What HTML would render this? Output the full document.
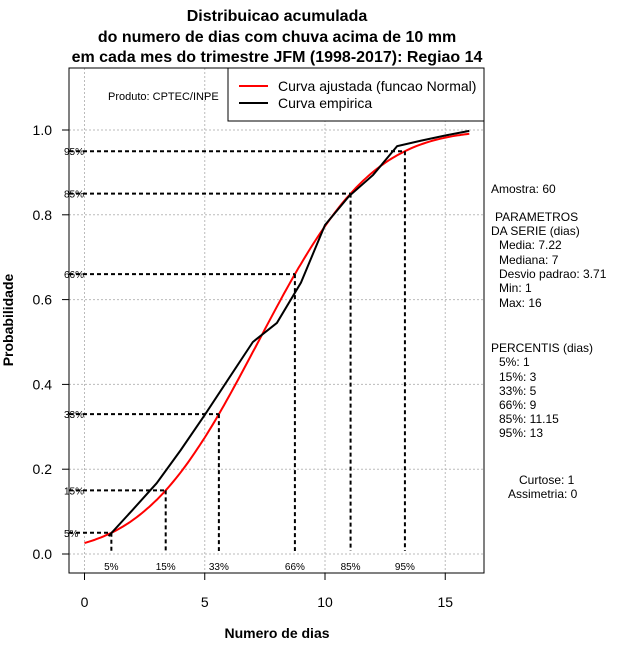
<!DOCTYPE html>
<html><head><meta charset="utf-8"><style>
body{margin:0;background:#fff;}
svg{display:block;font-family:"Liberation Sans",sans-serif;}
</style></head><body>
<svg id="chart" width="640" height="660" viewBox="0 0 640 660" xmlns="http://www.w3.org/2000/svg">
<g font-weight="bold" font-size="16" text-anchor="middle">
<text x="277" y="21">Distribuicao acumulada</text>
<text x="277" y="42">do numero de dias com chuva acima de 10 mm</text>
<text x="277" y="62">em cada mes do trimestre JFM (1998-2017): Regiao 14</text>
</g>
<g id="grid"></g>
<g id="marks"></g>
<rect x="69" y="68" width="415" height="505" fill="none" stroke="#000"/>
<g id="axes"></g>
<text x="277" y="638" font-size="14" font-weight="bold" text-anchor="middle">Numero de dias</text>
<text transform="translate(13,320) rotate(-90)" font-size="14" font-weight="bold" text-anchor="middle">Probabilidade</text>
<text x="108" y="100" font-size="11">Produto: CPTEC/INPE</text>
<g>
<rect x="228" y="68" width="256" height="53" fill="#fff" stroke="#000"/>
<line x1="239" y1="86" x2="268" y2="86" stroke="red" stroke-width="2"/>
<line x1="239" y1="103" x2="268" y2="103" stroke="#000" stroke-width="2"/>
<text x="278" y="91" font-size="14">Curva ajustada (funcao Normal)</text>
<text x="278" y="108" font-size="14">Curva empirica</text>
</g>
<g font-size="12">
<text x="491" y="193">Amostra: 60</text>
<text x="495" y="221">PARAMETROS</text>
<text x="491" y="235">DA SERIE (dias)</text>
<text x="499" y="249">Media: 7.22</text>
<text x="499" y="264">Mediana: 7</text>
<text x="499" y="278">Desvio padrao: 3.71</text>
<text x="499" y="292">Min: 1</text>
<text x="499" y="307">Max: 16</text>
<text x="491" y="352">PERCENTIS (dias)</text>
<text x="499" y="366">5%: 1</text>
<text x="499" y="381">15%: 3</text>
<text x="499" y="395">33%: 5</text>
<text x="499" y="409">66%: 9</text>
<text x="499" y="423">85%: 11.15</text>
<text x="499" y="437">95%: 13</text>
<text x="519" y="484">Curtose: 1</text>
<text x="508" y="498">Assimetria: 0</text>
</g>
</svg>
<script>
const xTicks=[0,5,10,15];
const yTicks=[0,0.2,0.4,0.6,0.8,1.0];
const yTickLabels=["0.0","0.2","0.4","0.6","0.8","1.0"];
const empX=[1,2,3,4,5,6,7,8,9,10,11,12,13,14,15,16];
const empY=[0.042,0.104,0.167,0.245,0.328,0.414,0.5,0.545,0.64,0.776,0.844,0.894,0.962,0.975,0.987,0.998];
const fitMean=[7.22];
const fitSd=[3.71];
const pctLabels=["5%","15%","33%","66%","85%","95%"];
const pctProb=[0.05,0.15,0.33,0.66,0.85,0.95];
const pctZ=[-1.645,-1.036,-0.440,0.412,1.036,1.645];

const NS="http://www.w3.org/2000/svg";
const X=v=>84.5+v*24.05;
const Y=v=>554-v*424;
function mk(tag,attrs,parent){const e=document.createElementNS(NS,tag);for(const k in attrs)e.setAttribute(k,attrs[k]);parent.appendChild(e);return e;}
const grid=document.getElementById('grid'),marks=document.getElementById('marks'),axes=document.getElementById('axes');
xTicks.forEach(t=>{const l=mk('line',{x1:X(t),x2:X(t),y1:68,y2:573,stroke:'#bbb','stroke-dasharray':'2,2'},grid);


const tk=mk('line',{x1:X(t),x2:X(t),y1:573,y2:580,stroke:'#000'},axes);


const tx=mk('text',{x:X(t),y:607,'font-size':14,'text-anchor':'middle'},axes);tx.textContent=t;

});
yTicks.forEach((t,i)=>{const l=mk('line',{x1:69,x2:484,y1:Y(t),y2:Y(t),stroke:'#bbb','stroke-dasharray':'2,2'},grid);


const tk=mk('line',{x1:62,x2:69,y1:Y(t),y2:Y(t),stroke:'#000'},axes);


const tx=mk('text',{x:52,y:Y(t)+5,'font-size':14,'text-anchor':'end'},axes);tx.textContent=yTickLabels[i];

});
function phi(z){const t=1/(1+0.2316419*Math.abs(z));const d=0.3989423*Math.exp(-z*z/2);let p=d*t*(0.3193815+t*(-0.3565638+t*(1.781478+t*(-1.821256+t*1.330274))));return z>0?1-p:p;}
let pts=[];for(let i=0;i<=160;i++){const x=i/10;pts.push(X(x).toFixed(1)+','+Y(phi((x-fitMean[0])/fitSd[0])).toFixed(1));}
const red=mk('polyline',{points:pts.join(' '),fill:'none',stroke:'red','stroke-width':2},marks);


const blk=mk('polyline',{points:empX.map((x,i)=>X(x)+','+Y(empY[i])).join(' '),fill:'none',stroke:'#000','stroke-width':2},marks);


pctProb.forEach((p,i)=>{const xv=fitMean[0]+pctZ[i]*fitSd[0];
const h=mk('line',{x1:69,x2:X(xv),y1:Y(p),y2:Y(p),stroke:'#000','stroke-width':2,'stroke-dasharray':'4,3'},marks);


const v=mk('line',{x1:X(xv),x2:X(xv),y1:Y(p),y2:551,stroke:'#000','stroke-width':2,'stroke-dasharray':'4,3'},marks);


const a=mk('text',{x:64,y:Y(p)+4,'font-size':10},marks);a.textContent=pctLabels[i];


const b=mk('text',{x:X(xv),y:570,'font-size':10,'text-anchor':'middle'},marks);b.textContent=pctLabels[i];

});
</script>
</body></html>
